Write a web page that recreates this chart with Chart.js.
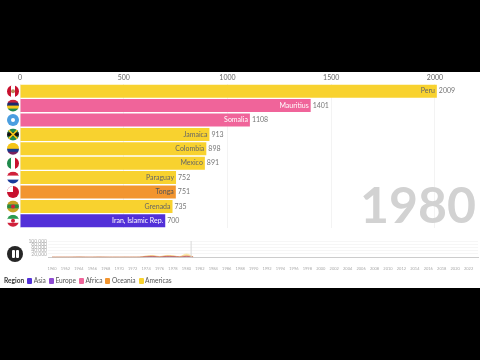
<!DOCTYPE html>
<html lang="en">

<head>
    <meta charset="UTF-8">
    <title>Bar chart race 1980</title>
    <script src="https://cdn.jsdelivr.net/npm/chart.js"></script>
    <style>
        html, body { margin: 0; width: 480px; height: 360px; background: #000; overflow: hidden; }
        #page { position: absolute; left: 0; top: 72px; width: 480px; height: 216px; background: #fff; font-family: Lato, sans-serif; }
        #mainBox { position: absolute; left: 0; top: 0; width: 480px; height: 156px; }
        #miniBox { position: absolute; left: 0; top: 163px; width: 480px; height: 40px; }
        #year { position: absolute; right: 4px; top: 97px; font: bold 50px Lato, sans-serif; color: #d2d2d2; line-height: 70px; }
        #pause { position: absolute; left: 7px; top: 174px; width: 16px; height: 16px; border-radius: 50%; background: #262626; }
        #pause i { position: absolute; top: 4px; width: 3px; height: 8px; background: #fff; border-radius: 1px; }
        #legend { position: absolute; left: 4px; top: 203px; font-size: 6.6px; color: #555; line-height: 11px; white-space: nowrap; }
        #legend b { color: #333; margin-right: 0; }
        #legend span { display: inline-block; width: 5px; height: 6px; margin: 0 1.5px 0 3px; vertical-align: -0.5px; border-radius: 1px; }
    </style>
</head>

<body>
    <div id="page">
        <div id="mainBox"><canvas id="raceChart" width="480" height="156"></canvas></div>
        <div id="year">1980</div>
        <div id="miniBox"><canvas id="timelineChart" width="480" height="37"></canvas></div>
        <div id="pause"><i style="left:4.5px"></i><i style="left:8.5px"></i></div>
        <div id="legend"><b>Region</b><span style="background:#5230d8"></span>Asia<span style="background:#8e4bd2"></span>Europe<span style="background:#f0649a"></span>Africa<span style="background:#f2952f"></span>Oceania<span style="background:#f8d22f"></span>Americas</div>
    </div>

    <script>
        const countries = ['Peru', 'Mauritius', 'Somalia', 'Jamaica', 'Colombia', 'Mexico', 'Paraguay', 'Tonga', 'Grenada', 'Iran, Islamic Rep.'];
        const values = [2009, 1401, 1108, 913, 898, 891, 752, 751, 735, 700];
        const regions = ['Americas', 'Africa', 'Africa', 'Americas', 'Americas', 'Americas', 'Americas', 'Oceania', 'Americas', 'Asia'];
        const xTicks = [0, 500, 1000, 1500, 2000];

        const timelineYears = [1960, 1961, 1962, 1963, 1964, 1965, 1966, 1967, 1968, 1969, 1970, 1971, 1972, 1973, 1974, 1975, 1976, 1977, 1978, 1979, 1980, 1981];
        const timelineAfrica = [200, 200, 200, 300, 800, 300, 200, 700, 300, 200, 200, 300, 300, 500, 3000, 4500, 1500, 4500, 4000, 1500, 5000, 1500];
        const timelineOceania = [100, 100, 100, 100, 500, 200, 100, 400, 200, 100, 100, 100, 200, 300, 3000, 4000, 1500, 4000, 3500, 1500, 6000, 800];
        const timelineAmericas = [100, 100, 100, 100, 400, 100, 100, 300, 100, 100, 100, 100, 100, 200, 1500, 2500, 800, 2500, 2000, 1000, 9000, 500];
        const timelineTickYears = [1960, 1962, 1964, 1966, 1968, 1970, 1972, 1974, 1976, 1978, 1980, 1982, 1984, 1986, 1988, 1990, 1992, 1994, 1996, 1998, 2000, 2002, 2004, 2006, 2008, 2010, 2012, 2014, 2016, 2018, 2020, 2022];
        const timelineTicks = [20000, 40000, 60000, 80000, 100000];

        const regionColors = { Asia: '#5230d8', Europe: '#8e4bd2', Africa: '#f0649a', Oceania: '#f2952f', Americas: '#f8d22f' };
        const nameColors = { Asia: '#fff', Africa: '#fff', Oceania: '#555', Americas: '#666' };

        // flag drawings: stripe colours, direction, and a small extra detail
        const flags = [
            { stripes: ['#c8102e', '#ffffff', '#c8102e'], vertical: true, dot: '#b98a5a' },
            { stripes: ['#c8203a', '#1a2a6c', '#f5c518', '#1f8a4c'] },
            { stripes: ['#4a9ee0'], dot: '#ffffff' },
            { stripes: ['#1f8a4c', '#111111', '#1f8a4c'], cross: '#f5c518' },
            { stripes: ['#f5c518', '#f5c518', '#1a3a8c', '#7a1f5c'] },
            { stripes: ['#1f8a4c', '#ffffff', '#c8102e'], vertical: true },
            { stripes: ['#d0203a', '#ffffff', '#1a3a9c'] },
            { stripes: ['#c8102e'], canton: '#ffffff' },
            { stripes: ['#c8a020', '#2a8a3c', '#c8a020'], dot: '#d0203a' },
            { stripes: ['#2a9a50', '#ffffff', '#d0203a'], dot: '#d0203a' }
        ];

        // round flags to the left of the bars, placed from the category scale
        const flagPlugin = {
            id: 'flags',
            afterDatasetsDraw(chart) {
                const c = chart.ctx;
                const y = chart.scales.y;
                const x = 13;
                const r = 6;
                flags.forEach((flag, i) => {
                    const cy = y.getPixelForValue(i);
                    c.save();
                    c.beginPath();
                    c.arc(x, cy, r, 0, Math.PI * 2);
                    c.clip();
                    const n = flag.stripes.length;
                    flag.stripes.forEach((col, j) => {
                        c.fillStyle = col;
                        if (flag.vertical) c.fillRect(x - r + j * 2 * r / n, cy - r, 2 * r / n + 0.5, r * 2);
                        else c.fillRect(x - r, cy - r + j * 2 * r / n, r * 2, 2 * r / n + 0.5);
                    });
                    if (flag.canton) {
                        c.fillStyle = flag.canton;
                        c.fillRect(x - r, cy - r, r, r);
                    }
                    if (flag.cross) {
                        c.strokeStyle = flag.cross;
                        c.lineWidth = 1.5;
                        c.beginPath();
                        c.moveTo(x - r, cy - r);
                        c.lineTo(x + r, cy + r);
                        c.moveTo(x + r, cy - r);
                        c.lineTo(x - r, cy + r);
                        c.stroke();
                    }
                    if (flag.dot) {
                        c.fillStyle = flag.dot;
                        c.beginPath();
                        c.arc(x, cy, 2, 0, Math.PI * 2);
                        c.fill();
                    }
                    c.restore();
                });
            }
        };

        // country name inside the bar end, value just outside
        const barLabelPlugin = {
            id: 'barLabels',
            afterDatasetsDraw(chart) {
                const c = chart.ctx;
                const bars = chart.getDatasetMeta(0).data;
                c.save();
                c.font = '7px Lato, sans-serif';
                c.textBaseline = 'middle';
                bars.forEach((bar, i) => {
                    c.textAlign = 'right';
                    c.fillStyle = nameColors[regions[i]];
                    c.fillText(countries[i], bar.x - 2, bar.y);
                    c.textAlign = 'left';
                    c.fillStyle = '#777';
                    c.fillText(values[i], bar.x + 2, bar.y);
                });
                c.restore();
            }
        };

        // thin marker for the current year on the timeline
        const cursorPlugin = {
            id: 'cursor',
            afterDatasetsDraw(chart) {
                const c = chart.ctx;
                const x = chart.scales.x.getPixelForValue(1980.7);
                c.save();
                c.strokeStyle = '#d8d8d8';
                c.lineWidth = 1;
                c.beginPath();
                c.moveTo(x, chart.scales.y.top);
                c.lineTo(x, chart.scales.y.bottom);
                c.stroke();
                c.restore();
            }
        };

        new Chart(document.getElementById('raceChart'), {
            type: 'bar',
            data: {
                labels: countries,
                datasets: [{
                    data: values,
                    backgroundColor: regions.map(r => regionColors[r]),
                    categoryPercentage: 1,
                    barPercentage: 0.9
                }]
            },
            options: {
                indexAxis: 'y',
                responsive: false,
                animation: false,
                layout: { padding: { left: 20, right: 0, top: 0, bottom: 0 } },
                plugins: { legend: { display: false }, tooltip: { enabled: false } },
                scales: {
                    x: {
                        position: 'top',
                        min: 0,
                        max: 2217,
                        afterBuildTicks: axis => { axis.ticks = xTicks.map(v => ({ value: v })); },
                        afterFit: axis => { axis.height = 12; },
                        border: { display: false },
                        grid: { color: '#f3f3f3', drawTicks: false },
                        ticks: { color: '#666', font: { size: 7, family: 'Lato, sans-serif' }, padding: 2, maxRotation: 0, callback: v => String(v) }
                    },
                    y: { display: false }
                }
            },
            plugins: [flagPlugin, barLabelPlugin]
        });

        const areaSeries = [
            { data: timelineAfrica, borderColor: '#a8384f', backgroundColor: 'rgba(160,50,70,0.7)', fill: 'origin' },
            { data: timelineOceania, borderColor: '#eaa060', backgroundColor: 'rgba(242,149,47,0.45)', fill: '-1' },
            { data: timelineAmericas, borderColor: '#f5dc80', backgroundColor: 'rgba(248,210,47,0.35)', fill: '-1' }
        ];

        new Chart(document.getElementById('timelineChart'), {
            type: 'line',
            data: {
                datasets: areaSeries.map(s => ({
                    data: s.data.map((v, i) => ({ x: timelineYears[i], y: v })),
                    borderColor: s.borderColor,
                    backgroundColor: s.backgroundColor,
                    fill: s.fill,
                    borderWidth: 0.5,
                    pointRadius: 0,
                    tension: 0.4
                }))
            },
            options: {
                responsive: false,
                animation: false,
                layout: { padding: { left: 0, right: 2, top: 6, bottom: 0 } },
                plugins: { legend: { display: false }, tooltip: { enabled: false } },
                scales: {
                    x: {
                        type: 'linear',
                        min: 1959.4,
                        max: 2023.4,
                        afterBuildTicks: axis => { axis.ticks = timelineTickYears.map(v => ({ value: v })); },
                        grid: { display: false },
                        border: { color: '#cccccc' },
                        ticks: { color: '#aaa', font: { size: 4, family: 'Lato, sans-serif' }, padding: 1, maxRotation: 0, autoSkip: false, callback: v => String(v) }
                    },
                    y: {
                        stacked: true,
                        min: 0,
                        max: 100000,
                        afterBuildTicks: axis => { axis.ticks = timelineTicks.map(v => ({ value: v })); },
                        afterFit: axis => { axis.width = 48; },
                        grid: { color: '#f6f6f6', drawTicks: false },
                        border: { display: false },
                        ticks: { color: '#aaa', font: { size: 5, family: 'Lato, sans-serif' }, padding: 1, autoSkip: false, callback: v => v.toLocaleString('en-US') }
                    }
                }
            },
            plugins: [cursorPlugin]
        });
    </script>
</body>

</html>
